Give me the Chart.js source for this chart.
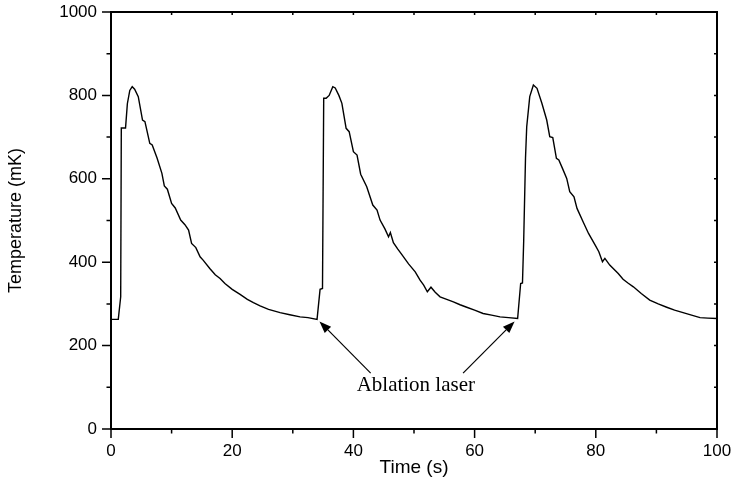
<!DOCTYPE html>
<html>
<head>
<meta charset="utf-8">
<script src="https://cdn.jsdelivr.net/npm/chart.js@4.4.1/dist/chart.umd.min.js"></script>
<style>
  html, body { margin: 0; padding: 0; background: #fff; }
  #wrap { width: 733px; height: 497px; }
</style>
</head>
<body>
<div id="wrap"><canvas id="tempChart" width="733" height="497"></canvas></div>
<script>
// Temperature trace (three ablation shots)
const timeS = [
  0, 1.2, 1.6, 1.7, 2.4, 2.7, 3.1, 3.5, 3.9, 4.5, 5.2, 5.6, 6.4, 6.8, 7.6, 8.4, 8.8, 9.3, 10.0, 10.6,
  11.5, 12.2, 12.8, 13.3, 14.0, 14.7, 15.2, 16.3, 17.2, 18.0, 18.8, 20.0, 21.3, 22.5, 23.5, 24.6, 26.0, 27.9, 29.5, 31.2,
  32.5, 34.0,
  34.5, 34.9, 35.1, 35.5, 36.0, 36.6, 37.0, 37.6, 38.1, 38.8, 39.3, 40.0, 40.6, 41.2, 42.2, 43.2, 43.9, 44.4, 45.2, 45.8,
  46.1, 46.6, 47.3, 48.0, 49.1, 50.2, 51.0, 51.6, 52.2, 52.8, 53.5, 54.3, 55.4, 56.5, 57.6, 58.7, 60.0, 61.4, 62.8, 64.2,
  65.6, 67.1,
  67.6, 67.9, 68.1, 68.4, 68.6, 69.1, 69.7, 70.3, 71.1, 71.9, 72.4, 72.9, 73.5, 73.9, 74.5, 75.2, 75.7, 76.4, 76.9, 77.9,
  78.8, 79.9, 80.5, 81.1, 81.5, 82.3, 83.7, 84.5, 85.3, 86.2, 87.5, 88.9, 90.3, 91.7, 93.0, 94.4, 95.8, 97.2, 98.5, 100
];
const tempMK = [
  263, 263, 317, 722, 722, 780, 812, 821, 815, 797, 741, 737, 685, 681, 650, 613, 583, 575, 541, 530,
  501, 490, 477, 445, 435, 413, 405, 385, 370, 361, 349, 335, 323, 311, 303, 295, 287, 279, 274, 269,
  267, 263,
  335, 337, 793, 793, 800, 821, 818, 800, 781, 721, 713, 665, 657, 611, 581, 537, 525, 501, 480, 461,
  471, 447, 432, 418, 396, 377, 357, 345, 329, 340, 328, 317, 311, 305, 298, 292, 285, 277, 273, 269,
  267, 265,
  349, 350, 450, 650, 725, 797, 825, 817, 781, 741, 701, 699, 649, 645, 625, 601, 569, 557, 529, 497,
  469, 441, 425, 401, 409, 393, 373, 359, 350, 341, 325, 309, 300, 292, 285, 279, 273, 267, 266, 265
];

// labelled ticks (others are minor)
const xLabelTicks = [0, 20, 40, 60, 80, 100];
const yLabelTicks = [0, 200, 400, 600, 800, 1000];

// annotation: two arrows pointing at the laser shots
const arrowTails = [[42.85, 134], [58.1, 134]];
const arrowTips = [[34.4, 258], [66.6, 258]];
const noteText = "Ablation laser";
const notePos = [50.3, 105];

const points = timeS.map((t, i) => ({ x: t, y: tempMK[i] }));

// box frame + tick marks (outward on left/bottom, inward on top/right)
const frameTicks = {
  id: "frameTicks",
  afterDraw(chart) {
    const { ctx, chartArea: a, scales: { x, y } } = chart;
    ctx.save();
    ctx.strokeStyle = "#000";
    ctx.lineWidth = 2;
    ctx.beginPath();
    ctx.moveTo(a.left, a.top);
    ctx.lineTo(a.right, a.top);
    ctx.lineTo(a.right, a.bottom);
    ctx.stroke();

    ctx.lineWidth = 1.5;
    x.ticks.forEach(t => {
      const px = x.getPixelForValue(t.value);
      const len = xLabelTicks.includes(t.value) ? 9 : 4.5;
      ctx.beginPath();
      ctx.moveTo(px, a.bottom);
      ctx.lineTo(px, a.bottom + len);
      ctx.moveTo(px, a.top);
      ctx.lineTo(px, a.top + 3);
      ctx.stroke();
    });
    y.ticks.forEach(t => {
      const py = y.getPixelForValue(t.value);
      const len = yLabelTicks.includes(t.value) ? 9 : 4.5;
      ctx.beginPath();
      ctx.moveTo(a.left, py);
      ctx.lineTo(a.left - len, py);
      ctx.moveTo(a.right, py);
      ctx.lineTo(a.right - 3, py);
      ctx.stroke();
    });
    ctx.restore();
  }
};

// arrows + "Ablation laser" label
const laserNote = {
  id: "laserNote",
  afterDatasetsDraw(chart) {
    const { ctx, scales: { x, y } } = chart;
    ctx.save();
    ctx.strokeStyle = "#000";
    ctx.fillStyle = "#000";
    ctx.lineWidth = 1.2;
    arrowTails.forEach((tail, i) => {
      const x0 = x.getPixelForValue(tail[0]), y0 = y.getPixelForValue(tail[1]);
      const x1 = x.getPixelForValue(arrowTips[i][0]), y1 = y.getPixelForValue(arrowTips[i][1]);
      const ang = Math.atan2(y1 - y0, x1 - x0);
      const headLen = 12, headW = 4.5;
      const bx = x1 - headLen * Math.cos(ang), by = y1 - headLen * Math.sin(ang);
      ctx.beginPath();
      ctx.moveTo(x0, y0);
      ctx.lineTo(bx, by);
      ctx.stroke();
      ctx.beginPath();
      ctx.moveTo(x1, y1);
      ctx.lineTo(bx + headW * Math.sin(ang), by - headW * Math.cos(ang));
      ctx.lineTo(bx - headW * Math.sin(ang), by + headW * Math.cos(ang));
      ctx.closePath();
      ctx.fill();
    });
    ctx.font = '21px "Liberation Serif"';
    ctx.textAlign = "center";
    ctx.textBaseline = "middle";
    ctx.fillText(noteText, x.getPixelForValue(notePos[0]), y.getPixelForValue(notePos[1]));
    ctx.restore();
  }
};

const ctx = document.getElementById("tempChart").getContext("2d");
const tempChart = new Chart(ctx, {
  type: "scatter",
  data: {
    datasets: [{
      data: points,
      showLine: true,
      borderColor: "#000",
      borderWidth: 1.4,
      pointRadius: 0,
      tension: 0,
      fill: false
    }]
  },
  options: {
    responsive: false,
    animation: false,
    layout: { padding: { top: 12, right: 16, left: 0, bottom: 0 } },
    plugins: { legend: { display: false }, tooltip: { enabled: false } },
    scales: {
      x: {
        type: "linear",
        min: 0,
        max: 100,
        afterFit: s => { s.height = 68; s.paddingLeft = 0; s.paddingRight = 0; },
        border: { display: true, color: "#000", width: 2 },
        grid: { drawOnChartArea: false, tickLength: 9, tickColor: "rgba(0,0,0,0)" },
        ticks: {
          stepSize: 10,
          autoSkip: false,
          maxRotation: 0,
          padding: 3,
          color: "#000",
          font: { family: "Liberation Sans", size: 17 },
          callback: v => xLabelTicks.includes(v) ? String(v) : ""
        },
        title: {
          display: true,
          text: "Time (s)",
          color: "#000",
          font: { family: "Liberation Sans", size: 19 },
          padding: { top: 0, bottom: 18 }
        }
      },
      y: {
        type: "linear",
        min: 0,
        max: 1000,
        afterFit: s => { s.width = 111; s.paddingTop = 0; s.paddingBottom = 0; },
        border: { display: true, color: "#000", width: 2 },
        grid: { drawOnChartArea: false, tickLength: 9, tickColor: "rgba(0,0,0,0)" },
        ticks: {
          stepSize: 100,
          autoSkip: false,
          padding: 5,
          color: "#000",
          font: { family: "Liberation Sans", size: 17 },
          callback: v => yLabelTicks.includes(v) ? String(v) : ""
        },
        title: {
          display: true,
          text: "Temperature (mK)",
          color: "#000",
          font: { family: "Liberation Sans", size: 18 },
          padding: { top: 5, bottom: 0 }
        }
      }
    }
  },
  plugins: [frameTicks, laserNote]
});
</script>
</body>
</html>
